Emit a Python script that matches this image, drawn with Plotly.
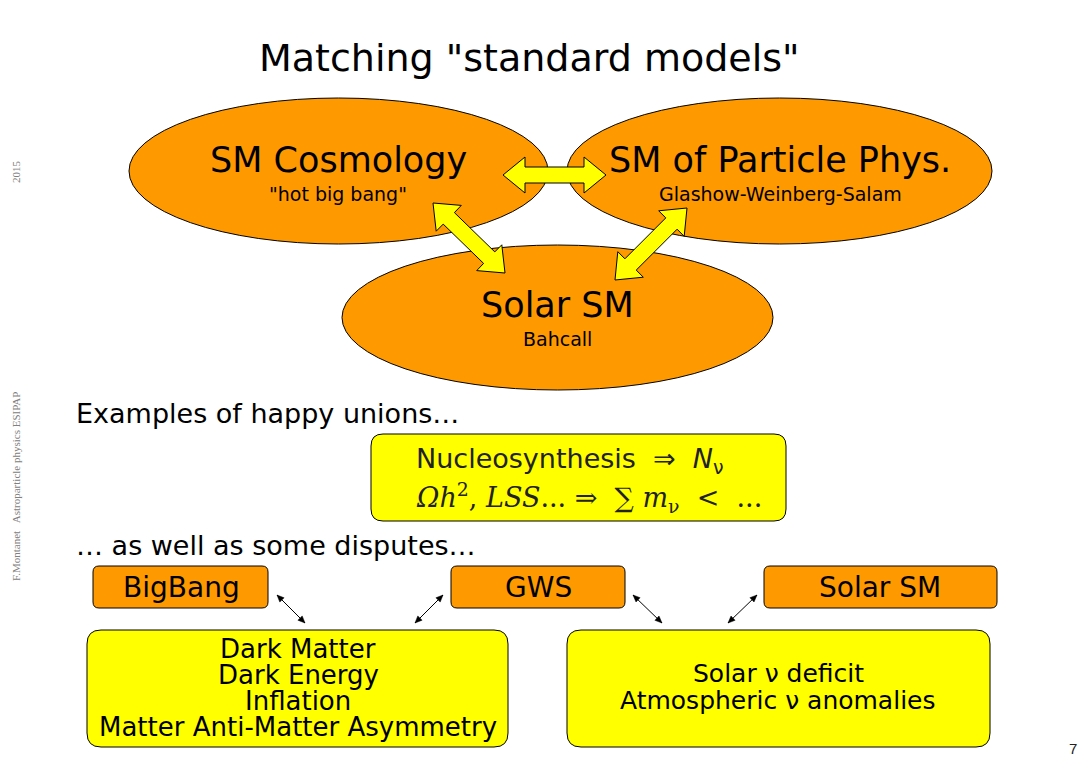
import plotly.graph_objects as go

W, H = 1089, 781
OFF = 8  # the page body margin shifts the figure by this many pixels
FONT = "DejaVu Sans"
ORANGE = "#FF9900"
YELLOW = "#FFFF00"

# ---- slide texts ----
title = 'Matching "standard models"'
model_names = ["SM Cosmology", "SM of Particle Phys.", "Solar SM"]
model_subs = ['"hot big bang"', "Glashow-Weinberg-Salam", "Bahcall"]
section_heads = ["Examples of happy unions…", "… as well as some disputes…"]
union_lines = [
    "Nucleosynthesis&nbsp;&nbsp;⇒&nbsp;&nbsp;<i>N</i><sub>ν</sub>",
    "<i>Ωh</i><sup>2</sup>, <i>LSS</i>...&nbsp;⇒&nbsp;&nbsp;∑ <i>m</i><sub>ν</sub>&nbsp;&nbsp;<&nbsp;&nbsp;...",
]
dispute_heads = ["BigBang", "GWS", "Solar SM"]
dispute_left = ["Dark Matter", "Dark Energy", "Inflation", "Matter Anti-Matter Asymmetry"]
dispute_right = ["Solar ν deficit", "Atmospheric ν anomalies"]
side_year = "2015"
side_credit = "F.Montanet   Astroparticle physics ESIPAP"
page_no = "7"


def rounded_rect(x0, y0, x1, y1, r):
    return (f"M{x0+r},{y0} L{x1-r},{y0} Q{x1},{y0} {x1},{y0+r} "
            f"L{x1},{y1-r} Q{x1},{y1} {x1-r},{y1} L{x0+r},{y1} "
            f"Q{x0},{y1} {x0},{y1-r} L{x0},{y0+r} Q{x0},{y0} {x0+r},{y0} Z")


def block_arrow(p0, p1, w=8, hw=18, hl=22):
    (xa, ya), (xb, yb) = p0, p1
    d = ((xb - xa) ** 2 + (yb - ya) ** 2) ** 0.5
    ux, uy = (xb - xa) / d, (yb - ya) / d
    nx, ny = -uy, ux

    def pt(bx, by, a, b):
        return f"{bx + ux*a + nx*b:.1f},{by + uy*a + ny*b:.1f}"
    if w == 0:
        return "M" + " L".join([pt(xa, ya, 0, 0), pt(xa, ya, hl, hw), pt(xa, ya, hl, -hw)]) + " Z " + \
               "M" + " L".join([pt(xb, yb, 0, 0), pt(xb, yb, -hl, hw), pt(xb, yb, -hl, -hw)]) + " Z"
    pts = [pt(xa, ya, 0, 0), pt(xa, ya, hl, hw), pt(xa, ya, hl, w),
           pt(xb, yb, -hl, w), pt(xb, yb, -hl, hw), pt(xb, yb, 0, 0),
           pt(xb, yb, -hl, -hw), pt(xb, yb, -hl, -w), pt(xa, ya, hl, -w),
           pt(xa, ya, hl, -hw)]
    return "M" + " L".join(pts) + " Z"


fig = go.Figure()
shapes = []
ann = []

# ellipses
ell = [(129, 98, 548, 244), (567, 98, 992, 244), (342, 245, 773, 390)]
for x0, y0, x1, y1 in ell:
    shapes.append(dict(type="circle", x0=x0, y0=y0, x1=x1, y1=y1,
                       fillcolor=ORANGE, line=dict(color="black", width=1)))

# yellow block arrows
for p0, p1 in [((503, 175), (606, 175)), ((433, 203), (505, 273)), ((687, 208), (615, 280))]:
    shapes.append(dict(type="path", path=block_arrow(p0, p1), fillcolor=YELLOW,
                       line=dict(color="black", width=1)))

# boxes
shapes.append(dict(type="path", path=rounded_rect(371, 434, 786, 521, 12),
                   fillcolor=YELLOW, line=dict(color="black", width=1)))
for x0, x1 in [(93, 268), (451, 625), (764, 997)]:
    shapes.append(dict(type="path", path=rounded_rect(x0, 566, x1, 608, 6),
                       fillcolor=ORANGE, line=dict(color="black", width=1)))
for x0, x1 in [(87, 508), (567, 990)]:
    shapes.append(dict(type="path", path=rounded_rect(x0, 630, x1, 747, 14),
                       fillcolor=YELLOW, line=dict(color="black", width=1)))

# thin double-headed arrows
for (xa, ya), (xb, yb) in [((277, 595), (305, 623)), ((443, 595), (415, 623)),
                           ((633, 595), (662, 623)), ((757, 595), (728, 623))]:
    shapes.append(dict(type="line", x0=xa, y0=ya, x1=xb, y1=yb,
                       line=dict(color="black", width=1)))
    shapes.append(dict(type="path", path=block_arrow((xa, ya), (xb, yb), w=0, hw=3, hl=7),
                       fillcolor="black", line=dict(color="black", width=0.5)))


def txt(x, y, s, size, xanchor="center", color="black", family=FONT, angle=0):
    ann.append(dict(x=x, y=y, text=s, showarrow=False, xanchor=xanchor, yanchor="middle",
                    textangle=angle, font=dict(family=family, size=size, color=color)))


txt(529, 58, title, 38)
for (cx, cy), name, sub in zip([(338, 160), (780, 160), (557, 305)], model_names, model_subs):
    txt(cx, cy, name, 35)
    txt(cx, cy + 34, sub, 19)

txt(74, 413, section_heads[0], 27, xanchor="left")
txt(74, 545, section_heads[1], 27, xanchor="left")

txt(414, 460, union_lines[0], 27, xanchor="left", color="#222222", family="DejaVu Sans")
txt(414, 497, union_lines[1], 27, xanchor="left", color="#222222", family="DejaVu Serif")

for cx, s in zip([181, 538, 880], dispute_heads):
    txt(cx, 587, s, 28)

for i, s in enumerate(dispute_left):
    txt(298, 649 + 26 * i, s, 26)
for i, s in enumerate(dispute_right):
    txt(778, 673 + 27 * i, s, 25)

txt(16, 172, side_year, 11, color="#808080", family="Liberation Serif", angle=-90)
txt(16, 487, side_credit, 11, color="#808080", family="Liberation Serif", angle=-90)
txt(1073, 748, page_no, 15, color="#222222", family="Liberation Sans")

fig.update_layout(
    width=W - OFF, height=H - OFF, margin=dict(l=0, r=0, t=0, b=0),
    paper_bgcolor="white", plot_bgcolor="white",
    xaxis=dict(range=[OFF, W], visible=False, fixedrange=True),
    yaxis=dict(range=[H, OFF], visible=False, fixedrange=True),
    shapes=shapes, annotations=ann, showlegend=False,
)
fig.write_html("out.html")
